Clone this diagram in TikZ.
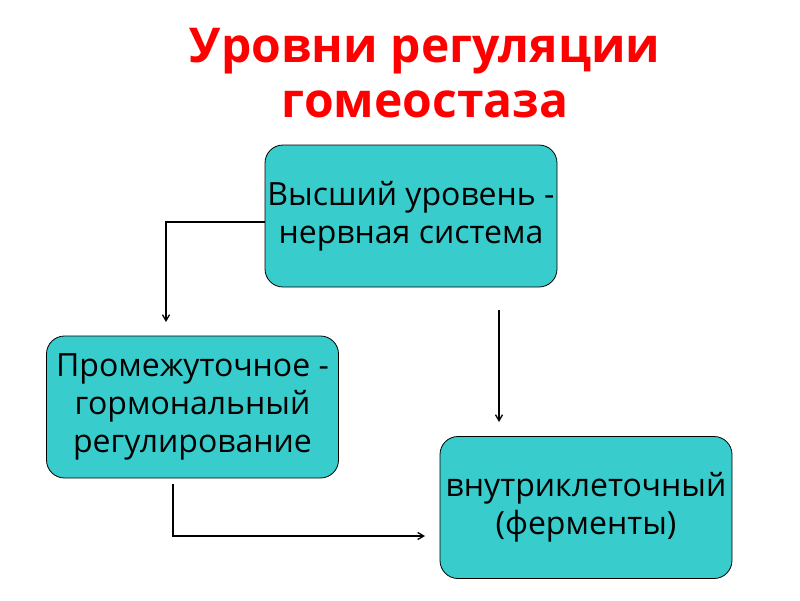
\documentclass[tikz,border=0pt]{standalone}
\usepackage{fontspec}
\setmainfont{Open Sans}
\usetikzlibrary{arrows.meta}
\begin{document}
\begin{tikzpicture}[x=1pt,y=-1pt,
  box/.style={draw=black,line width=0.8pt,fill=boxteal,rounded corners=18pt,minimum width=292pt,minimum height=142pt,align=center,font=\fontsize{32}{38}\selectfont,inner sep=0pt},
  conn/.style={line width=1.3pt,-{Straight Barb[length=6pt,width=7pt]}}]
\definecolor{boxteal}{RGB}{56,204,204}
\useasboundingbox (0,0) rectangle (800,600);
\node[font=\fontsize{48}{55}\selectfont\bfseries,text=red,align=center] (title) at (425,73) {Уровни регуляции\\гомеостаза};
\node[box] (b1) at (411,216) {Высший уровень -\\нервная система};
\node[box] (b2) at (192.5,407) {Промежуточное -\\гормональный\\регулирование};
\node[box] (b3) at (586,507.5) {внутриклеточный\\(ферменты)};
\coordinate (a1) at (166,322);
\coordinate (s2) at (499,310);
\coordinate (e2) at (499,422);
\coordinate (s3) at (173,484);
\coordinate (e3) at (425,536);
\draw[conn] (b1.west |- 0,222) -| (a1);
\draw[conn] (s2) -- (e2);
\draw[conn] (s3) |- (e3);
\end{tikzpicture}
\end{document}
